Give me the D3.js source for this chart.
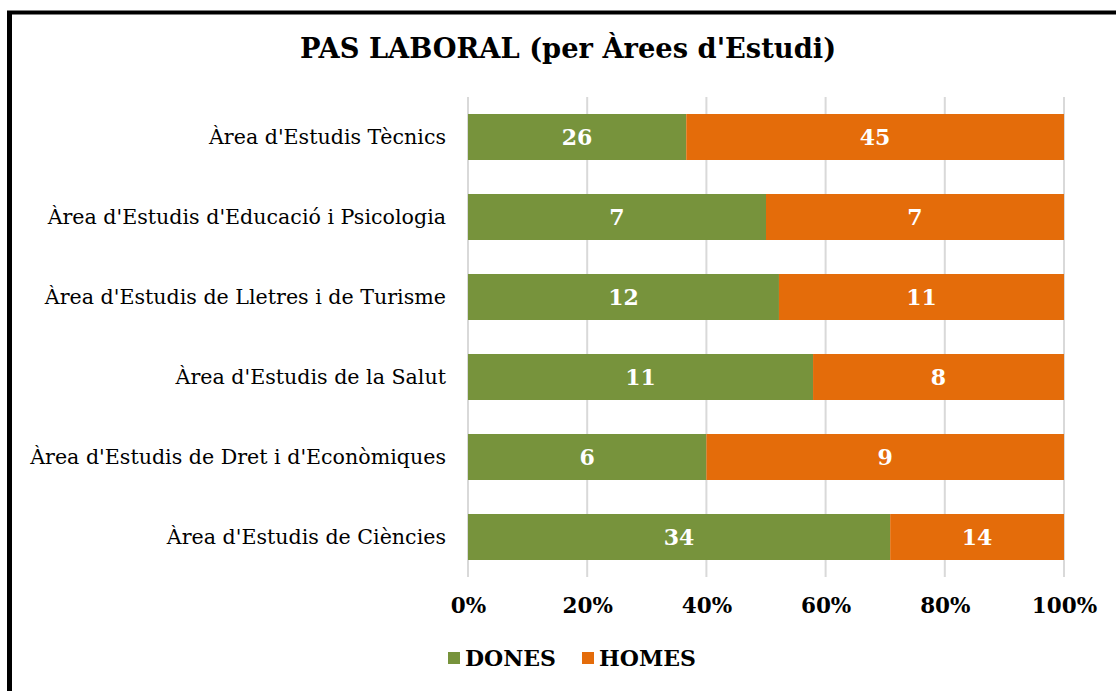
<!DOCTYPE html>
<html>
<head>
<meta charset="utf-8">
<script src="https://cdn.jsdelivr.net/npm/d3@7"></script>
<style>
  body { margin: 0; background: #fff; }
  svg { display: block; }
</style>
</head>
<body>
<div id="chart"></div>
<script>
// data
const areas = [
    "Àrea d'Estudis Tècnics",
    "Àrea d'Estudis d'Educació i Psicologia",
    "Àrea d'Estudis de Lletres i de Turisme",
    "Àrea d'Estudis de la Salut",
    "Àrea d'Estudis de Dret i d'Econòmiques",
    "Àrea d'Estudis de Ciències"
];
const dones = [26, 7, 12, 11, 6, 34];
const homes = [45, 7, 11, 8, 9, 14];
const seriesNames = ["DONES", "HOMES"];
const seriesColors = ["#77933c", "#e46c0a"];
const tickValues = [0, 0.2, 0.4, 0.6, 0.8, 1];

const W = 1116, H = 691;
const margin = {top: 97, right: 52, bottom: 114, left: 468};
const width = W - margin.left - margin.right;
const height = H - margin.top - margin.bottom;

const svg = d3.select("#chart").append("svg")
    .attr("width", W)
    .attr("height", H);

// frame (left and top edges visible)
svg.append("line")
    .attr("x1", 9.5).attr("x2", 9.5)
    .attr("y1", 11).attr("y2", H)
    .attr("stroke", "#000").attr("stroke-width", 5);
svg.append("line")
    .attr("x1", 7).attr("x2", W)
    .attr("y1", 12.5).attr("y2", 12.5)
    .attr("stroke", "#000").attr("stroke-width", 4);

// title
svg.append("text")
    .attr("x", 568)
    .attr("y", 58)
    .attr("text-anchor", "middle")
    .attr("font-family", "'DejaVu Serif', serif")
    .attr("font-weight", "bold")
    .attr("font-size", 27.3)
    .attr("fill", "#000")
    .text("PAS LABORAL (per Àrees d'Estudi)");

const g = svg.append("g")
    .attr("transform", "translate(" + margin.left + "," + margin.top + ")");

// stacked table
const rows = areas.map((a, i) => {
    const total = dones[i] + homes[i];
    return {area: a, DONES: dones[i] / total, HOMES: homes[i] / total, raw: [dones[i], homes[i]]};
});
const stack = d3.stack().keys(seriesNames)(rows);

const x = d3.scaleLinear().domain([0, 1]).range([0, width]);
const y = d3.scaleBand().domain(areas).range([0, height]).paddingInner(0.425).paddingOuter(0.2125);

// gridlines
g.selectAll(".grid")
    .data(tickValues)
    .enter().append("line")
    .attr("class", "grid")
    .attr("x1", d => x(d)).attr("x2", d => x(d))
    .attr("y1", 0).attr("y2", height)
    .attr("stroke", "#d9d9d9")
    .attr("stroke-width", 2);

// x axis labels
const xAxis = d3.axisBottom(x)
    .tickValues(tickValues)
    .tickFormat(d3.format(".0%"))
    .tickSize(0)
    .tickPadding(21);
const xg = g.append("g")
    .attr("transform", "translate(0," + height + ")")
    .call(xAxis);
xg.select(".domain").remove();
xg.selectAll("text")
    .attr("font-family", "'DejaVu Serif', serif")
    .attr("font-weight", "bold")
    .attr("font-size", 21.5)
    .attr("fill", "#000");

// y axis labels
const yAxis = d3.axisLeft(y).tickSize(0).tickPadding(22);
const yg = g.append("g").call(yAxis);
yg.select(".domain").remove();
yg.selectAll("text")
    .attr("font-family", "'DejaVu Serif', serif")
    .attr("font-size", 20.6)
    .attr("fill", "#000");

// bars
const layers = g.selectAll(".layer")
    .data(stack)
    .enter().append("g")
    .attr("class", "layer")
    .attr("fill", (d, i) => seriesColors[i]);

layers.selectAll("rect")
    .data(d => d)
    .enter().append("rect")
    .attr("x", d => x(d[0]))
    .attr("y", d => y(d.data.area))
    .attr("width", d => x(d[1]) - x(d[0]))
    .attr("height", y.bandwidth());

// value labels
layers.each(function(layer, li) {
    d3.select(this).selectAll("text")
        .data(layer)
        .enter().append("text")
        .attr("x", d => (x(d[0]) + x(d[1])) / 2)
        .attr("y", d => y(d.data.area) + y.bandwidth() / 2)
        .attr("dy", "0.36em")
        .attr("text-anchor", "middle")
        .attr("font-family", "'DejaVu Serif', serif")
        .attr("font-weight", "bold")
        .attr("font-size", 22)
        .attr("fill", "#fff")
        .text(d => d.data.raw[li]);
});

// legend
const legend = svg.append("g").attr("transform", "translate(448,652)");
const legendX = [0, 134];
seriesNames.forEach((name, i) => {
    const item = legend.append("g").attr("transform", "translate(" + legendX[i] + ",0)");
    item.append("rect")
        .attr("width", 12).attr("height", 12)
        .attr("fill", seriesColors[i]);
    item.append("text")
        .attr("x", 17)
        .attr("y", 13.5)
        .attr("font-family", "'DejaVu Serif', serif")
        .attr("font-weight", "bold")
        .attr("font-size", 22)
        .attr("fill", "#000")
        .text(name);
});
</script>
</body>
</html>
